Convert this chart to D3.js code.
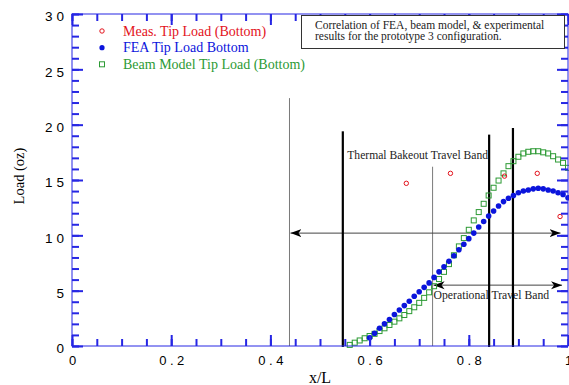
<!DOCTYPE html>
<html>
<head>
<meta charset="utf-8">
<script src="https://cdn.jsdelivr.net/npm/d3@7"></script>
<style>
body { margin: 0; background: #fff; }
svg { display: block; }
.serif { font-family: "Liberation Serif", "Times New Roman", serif; }
.tick text { font-family: "Liberation Sans", Arial, sans-serif; font-size: 13px; fill: #000; }
</style>
</head>
<body>
<div id="chart-area"></div>
<script>
// SVG size
var width = 569,
	height = 385;
var margin = {top: 14, right: 1, bottom: 39, left: 72};

// axis ticks
var xMajor = [0, 0.2, 0.4, 0.6, 0.8, 1];
var xMajorLabels = ["0", "0.2", "0.4", "0.6", "0.8", "1"];
var yMajor = [0, 5, 10, 15, 20, 25, 30];
var yMajorLabels = ["0", "5", "10", "15", "20", "25", "30"];

// measured tip load
var measX = [0.674, 0.763, 0.872, 0.938, 0.984];
var measY = [14.7, 15.6, 15.35, 15.6, 11.7];

// FEA tip load
var feaX = [0.60, 0.61, 0.62, 0.63, 0.64, 0.65, 0.66, 0.67, 0.68, 0.69,
	0.70, 0.71, 0.72, 0.73, 0.74, 0.75, 0.76, 0.77, 0.78, 0.79,
	0.80, 0.81, 0.82, 0.83, 0.84, 0.85, 0.86, 0.87, 0.88, 0.89,
	0.90, 0.91, 0.92, 0.93, 0.94, 0.95, 0.96, 0.97, 0.98, 0.99, 1.00];
var feaY = [0.75, 1.15, 1.6, 2.0, 2.4, 2.85, 3.25, 3.65, 4.05, 4.5,
	4.9, 5.3, 5.7, 6.2, 6.7, 7.15, 7.65, 8.15, 8.7, 9.2,
	9.7, 10.2, 10.75, 11.25, 11.75, 12.2, 12.65, 13.05, 13.35, 13.6,
	13.85, 14.0, 14.1, 14.2, 14.25, 14.2, 14.1, 14.0, 13.85, 13.7, 13.4];

// beam model tip load
var beamX = [0.56, 0.57, 0.58, 0.59, 0.60, 0.61, 0.62, 0.63, 0.64, 0.65,
	0.66, 0.67, 0.68, 0.69, 0.70, 0.71, 0.72, 0.73, 0.74, 0.75,
	0.76, 0.77, 0.78, 0.79, 0.80, 0.81, 0.82, 0.83, 0.84, 0.85,
	0.86, 0.87, 0.88, 0.89, 0.90, 0.91, 0.92, 0.93, 0.94, 0.95,
	0.96, 0.97, 0.98, 0.99, 1.00];
var beamY = [0.1, 0.3, 0.5, 0.7, 0.9, 1.1, 1.35, 1.6, 1.9, 2.2,
	2.5, 2.8, 3.15, 3.5, 3.9, 4.35, 4.85, 5.4, 6.05, 6.7,
	7.4, 8.2, 9.0, 9.75, 10.5, 11.35, 12.1, 12.85, 13.6, 14.3,
	14.95, 15.6, 16.25, 16.7, 17.1, 17.4, 17.55, 17.6, 17.6, 17.5,
	17.4, 17.15, 16.85, 16.55, 16.1];

// travel band markers (x/L, load)
var bandX = [0.4385, 0.727];
var bandTop = [22.4, 16.2];
var limitX = [0.546, 0.841, 0.889];
var limitTop = [19.4, 19.1, 19.7];
var arrowFrom = [0.4385, 0.727];
var arrowTo = [0.985, 0.988];
var arrowY = [10.2, 5.5];
var arrowLabels = ["Thermal Bakeout Travel Band", "Operational Travel Band"];

var legendLabels = ["Meas. Tip Load (Bottom)", "FEA Tip Load Bottom", "Beam Model Tip Load (Bottom)"];
var noteLines = ["Correlation of FEA, beam model, & experimental",
	"results for the prototype 3 configuration."];

var axisBlue = "#2626e4",
	red = "#e3121c",
	blue = "#0b14dc",
	green = "#2c9a34";

var svg = d3.select("#chart-area")
	.append("svg")
	.attr("width", width)
	.attr("height", height);

var x = d3.scaleLinear().domain([0, 1]).range([margin.left, width - margin.right]);
var y = d3.scaleLinear().domain([0, 30]).range([height - margin.bottom, margin.top]);

var defs = svg.append("defs");
defs.append("marker")
	.attr("id", "arrow")
	.attr("viewBox", "0 -5 12 10")
	.attr("refX", 11).attr("refY", 0)
	.attr("markerUnits", "userSpaceOnUse")
	.attr("markerWidth", 12).attr("markerHeight", 10)
	.attr("orient", "auto-start-reverse")
	.append("path")
	.attr("d", "M0,-4L11,0L0,4L3,0Z")
	.attr("fill", "#000");

// vertical band lines
var bands = bandX.map(function(d, i){ return {x: d, top: bandTop[i]}; });
svg.selectAll("line.band")
	.data(bands)
	.enter()
	.append("line")
	.attr("class", "band")
	.attr("x1", function(d){ return x(d.x); })
	.attr("x2", function(d){ return x(d.x); })
	.attr("y1", y(0))
	.attr("y2", function(d){ return y(d.top); })
	.attr("stroke", "#7a7a7a")
	.attr("stroke-width", 1);

// arrows
var arrows = arrowFrom.map(function(d, i){ return {x0: d, x1: arrowTo[i], y: arrowY[i]}; });
svg.selectAll("line.arrow")
	.data(arrows)
	.enter()
	.append("line")
	.attr("class", "arrow")
	.attr("x1", function(d){ return x(d.x0) + 1; })
	.attr("x2", function(d){ return x(d.x1); })
	.attr("y1", function(d){ return y(d.y); })
	.attr("y2", function(d){ return y(d.y); })
	.attr("stroke", "#444")
	.attr("stroke-width", 1)
	.attr("marker-start", "url(#arrow)")
	.attr("marker-end", "url(#arrow)");

svg.append("text").attr("class", "serif")
	.attr("x", x(0.555)).attr("y", y(16.9))
	.style("font-size", "11.6px").attr("fill", "#222")
	.text(arrowLabels[0]);
svg.append("text").attr("class", "serif")
	.attr("x", x(0.729)).attr("y", y(4.25))
	.style("font-size", "11.7px").attr("fill", "#222")
	.text(arrowLabels[1]);

// thick limit lines
var limits = limitX.map(function(d, i){ return {x: d, top: limitTop[i]}; });
svg.selectAll("line.limit")
	.data(limits)
	.enter()
	.append("line")
	.attr("class", "limit")
	.attr("x1", function(d){ return x(d.x); })
	.attr("x2", function(d){ return x(d.x); })
	.attr("y1", y(0) + 1)
	.attr("y2", function(d){ return y(d.top); })
	.attr("stroke", "#000")
	.attr("stroke-width", 2.2);

// data points
svg.selectAll("rect.beam")
	.data(beamX.map(function(d, i){ return [d, beamY[i]]; }))
	.enter()
	.append("rect")
	.attr("class", "beam")
	.attr("x", function(d){ return x(d[0]) - 2.5; })
	.attr("y", function(d){ return y(d[1]) - 2.5; })
	.attr("width", 5).attr("height", 5)
	.attr("fill", "none")
	.attr("stroke", green)
	.attr("stroke-width", 1);

svg.selectAll("circle.fea")
	.data(feaX.map(function(d, i){ return [d, feaY[i]]; }))
	.enter()
	.append("circle")
	.attr("class", "fea")
	.attr("cx", function(d){ return x(d[0]); })
	.attr("cy", function(d){ return y(d[1]); })
	.attr("r", 2.8)
	.attr("fill", blue);

svg.selectAll("circle.meas")
	.data(measX.map(function(d, i){ return [d, measY[i]]; }))
	.enter()
	.append("circle")
	.attr("class", "meas")
	.attr("cx", function(d){ return x(d[0]); })
	.attr("cy", function(d){ return y(d[1]); })
	.attr("r", 2.2)
	.attr("fill", "none")
	.attr("stroke", red)
	.attr("stroke-width", 1);

// axes: minor + major ticks on all four sides, pointing inward
var xMinor = d3.range(0, 1.0001, 0.05);
var yMinor = d3.range(0, 30.001, 1);

function styleAxis(g){
	g.select(".domain").remove();
	g.selectAll(".tick line").attr("stroke", axisBlue).attr("stroke-width", 2);
}

svg.append("g")
	.attr("transform", "translate(0," + y(0) + ")")
	.call(d3.axisBottom(x).tickValues(xMinor).tickSize(-7).tickSizeOuter(0).tickFormat(""))
	.call(styleAxis);
svg.append("g")
	.attr("transform", "translate(0," + y(30) + ")")
	.call(d3.axisTop(x).tickValues(xMinor).tickSize(-7).tickSizeOuter(0).tickFormat(""))
	.call(styleAxis);
svg.append("g")
	.attr("transform", "translate(" + x(0) + ",0)")
	.call(d3.axisLeft(y).tickValues(yMinor).tickSize(-7).tickSizeOuter(0).tickFormat(""))
	.call(styleAxis);
svg.append("g")
	.attr("transform", "translate(" + x(1) + ",0)")
	.call(d3.axisRight(y).tickValues(yMinor).tickSize(-7).tickSizeOuter(0).tickFormat(""))
	.call(styleAxis);

var xAxis = svg.append("g")
	.attr("class", "axis x-axis")
	.attr("transform", "translate(0," + y(0) + ")")
	.call(d3.axisBottom(x).tickValues(xMajor).tickSize(-11).tickSizeOuter(0).tickPadding(10)
		.tickFormat(function(d, i){ return xMajorLabels[i]; }))
	.call(styleAxis);
xAxis.selectAll("text").style("letter-spacing", "3.5px").attr("dx", "1.75px");

var yAxis = svg.append("g")
	.attr("class", "axis y-axis")
	.attr("transform", "translate(" + x(0) + ",0)")
	.call(d3.axisLeft(y).tickValues(yMajor).tickSize(-11).tickSizeOuter(0).tickPadding(4)
		.tickFormat(function(d, i){ return yMajorLabels[i]; }))
	.call(styleAxis);
yAxis.selectAll("text").style("font-size", "13.5px").style("letter-spacing", "4px").attr("dy", "0.5em");

svg.append("g")
	.attr("transform", "translate(0," + y(30) + ")")
	.call(d3.axisTop(x).tickValues(xMajor).tickSize(-11).tickSizeOuter(0).tickFormat(""))
	.call(styleAxis);
svg.append("g")
	.attr("transform", "translate(" + x(1) + ",0)")
	.call(d3.axisRight(y).tickValues(yMajor).tickSize(-11).tickSizeOuter(0).tickFormat(""))
	.call(styleAxis);

// frame
svg.append("rect")
	.attr("x", x(0)).attr("y", y(30))
	.attr("width", x(1) - x(0)).attr("height", y(0) - y(30))
	.attr("fill", "none")
	.attr("stroke", axisBlue)
	.attr("stroke-width", 1);

// note box
svg.append("rect")
	.attr("x", 301.5).attr("y", 15.5)
	.attr("width", 263).attr("height", 33)
	.attr("fill", "#fff")
	.attr("stroke", "#333")
	.attr("stroke-width", 1);
svg.selectAll("text.note")
	.data(noteLines)
	.enter()
	.append("text")
	.attr("class", "note serif")
	.attr("x", 315)
	.attr("y", function(d, i){ return 28.5 + i * 11.5; })
	.style("font-size", "11.5px")
	.attr("fill", "#222")
	.text(function(d){ return d; });

// legend
var legend = svg.append("g").attr("class", "legend");
var rowY = [31, 47.7, 64.3];
legend.append("circle").attr("cx", 102).attr("cy", rowY[0]).attr("r", 2.2)
	.attr("fill", "none").attr("stroke", red);
legend.append("circle").attr("cx", 102).attr("cy", rowY[1]).attr("r", 2.6)
	.attr("fill", blue);
legend.append("rect").attr("x", 99.5).attr("y", rowY[2] - 2.5).attr("width", 5).attr("height", 5)
	.attr("fill", "none").attr("stroke", green);
legend.selectAll("text")
	.data(legendLabels)
	.enter()
	.append("text")
	.attr("class", "serif")
	.attr("x", 123)
	.attr("y", function(d, i){ return rowY[i] + 4.5; })
	.style("font-size", "14px")
	.attr("fill", function(d, i){ return [red, blue, green][i]; })
	.text(function(d){ return d; });

// axis titles
svg.append("text").attr("class", "serif")
	.text("x/L")
	.attr("x", 320).attr("y", 383)
	.attr("text-anchor", "middle")
	.style("font-size", "16px");
svg.append("text").attr("class", "serif")
	.text("Load (oz)")
	.attr("transform", "translate(24,176) rotate(-90)")
	.attr("text-anchor", "middle")
	.style("font-size", "14.5px");
</script>
</body>
</html>
